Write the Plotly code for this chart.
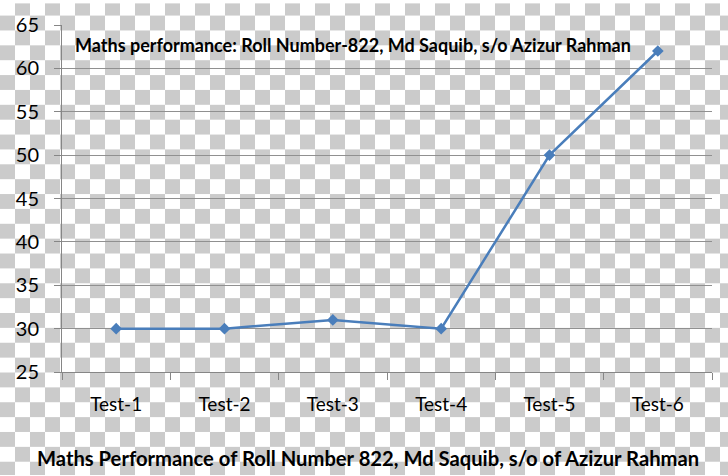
import base64
import plotly.graph_objects as go

categories = ["Test-1", "Test-2", "Test-3", "Test-4", "Test-5", "Test-6"]
scores = [30, 30, 31, 30, 50, 62]
y_ticks = [25, 30, 35, 40, 45, 50, 55, 60, 65]
inner_title = "Maths performance: Roll Number-822, Md Saquib, s/o Azizur Rahman"
bottom_title = "Maths Performance of Roll Number 822, Md Saquib, s/o of Azizur Rahman"

W, H = 728, 476
L, R, T, B = 62, 16, 22, 104
pw, ph = W - L - R, H - T - B

svg = (
    f'<svg xmlns="http://www.w3.org/2000/svg" width="{W}" height="{H}">'
    '<defs><pattern id="p" x="0" y="12.5" width="30" height="30" patternUnits="userSpaceOnUse">'
    '<rect width="30" height="30" fill="#ffffff"/>'
    '<rect x="0" y="0" width="15" height="15" fill="#cbcbcb"/>'
    '<rect x="15" y="15" width="15" height="15" fill="#cbcbcb"/>'
    '</pattern></defs>'
    f'<rect width="{W}" height="{H}" fill="url(#p)"/></svg>'
)
src = "data:image/svg+xml;base64," + base64.b64encode(svg.encode()).decode()

FONT = "Lato, 'Open Sans', sans-serif"

fig = go.Figure()
fig.add_trace(go.Scatter(
    x=categories, y=scores, mode="lines+markers",
    line=dict(color="#4a7ebb", width=2.5),
    marker=dict(symbol="diamond", size=9, color="#4a7ebb"),
    showlegend=False,
))

fig.update_layout(
    width=W, height=H,
    margin=dict(l=L, r=R, t=T, b=B, pad=0),
    paper_bgcolor="white",
    plot_bgcolor="rgba(0,0,0,0)",
    font=dict(family=FONT, color="black"),
    images=[dict(source=src, xref="paper", yref="paper",
                 x=-L / pw, y=1 + T / ph, sizex=W / pw, sizey=H / ph,
                 xanchor="left", yanchor="top", sizing="stretch", layer="below")],
    xaxis=dict(
        type="category", tickson="boundaries", range=[-0.5, 5.5],
        showgrid=False, showline=True, linecolor="#868686", linewidth=1,
        ticks="outside", ticklen=7, tickcolor="#868686",
        tickfont=dict(size=19, family=FONT), ticklabelstandoff=15,
    ),
    yaxis=dict(
        range=[25, 65], tickvals=y_ticks,
        showgrid=True, gridcolor="#909090", gridwidth=1,
        showline=True, linecolor="#868686", linewidth=1,
        ticks="outside", ticklen=7, tickcolor="#868686",
        tickfont=dict(size=20, family=FONT), ticklabelstandoff=11,
        zeroline=False,
    ),
    annotations=[
        dict(text=f"<b>{inner_title}</b>", xref="paper", yref="paper",
             x=(73 - L) / pw, y=(H - B - 42) / ph, xanchor="left", yanchor="middle",
             showarrow=False, font=dict(size=18, family=FONT, color="black")),
        dict(text=f"<b>{bottom_title}</b>", xref="paper", yref="paper",
             x=(368 - L) / pw, y=(H - B - 459) / ph, xanchor="center", yanchor="middle",
             showarrow=False, font=dict(size=20.2, family=FONT, color="black")),
    ],
)

fig.write_html("out.html")
